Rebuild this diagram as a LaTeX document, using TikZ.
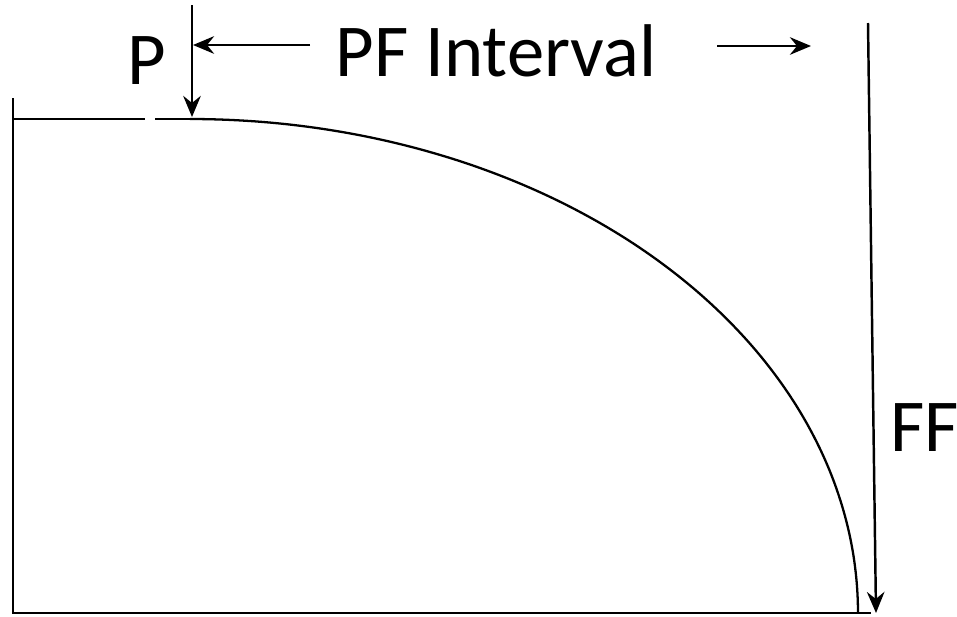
\documentclass[tikz,border=0pt]{standalone}
\usepackage{fontspec}
\setmainfont{Carlito}
\usetikzlibrary{arrows.meta}
\tikzset{
  lbl/.style={font=\fontsize{42.5}{50}\selectfont, inner sep=0pt},
  dimarrow/.style={-{Stealth[length=12pt, width=10pt, inset=4pt]}, line width=1.4pt}
}
\begin{document}
\begin{tikzpicture}[x=0.02cm, y=-0.02cm, line width=1.3pt]
    \useasboundingbox (0,0) rectangle (957,616);
    % Axes
    \draw (13,98) -- (13,613) -- (871,613);
    % Flat part before P, with the gap
    \draw (13,119) -- (145,119);
    \draw (155,119) -- (190,119);
    % Decline curve from P to FF
    \draw plot[domain=90:0, samples=80, smooth] ({190+668*cos(\x)}, {613-494*sin(\x)});
    % Labels
    \node[lbl] (p) at (147,61) {P};
    \node[lbl] (pfi) at (496,51) {PF Interval};
    \node[lbl] (ff) at (925,428) {FF};
    % Point P marker
    \coordinate (ptop) at (192,5);
    \coordinate (pbot) at (192,117);
    \draw[dimarrow] (ptop) -- (pbot);
    % Interval arrows
    \coordinate (lstart) at (310,45);
    \coordinate (lend) at (193,45);
    \draw[dimarrow] (lstart) -- (lend);
    \coordinate (rstart) at (717,46);
    \coordinate (rend) at (811,46);
    \draw[dimarrow] (rstart) -- (rend);
    % Point FF marker
    \coordinate (fftop) at (868,23);
    \coordinate (ffbot) at (876,613);
    \draw[dimarrow] (fftop) -- (ffbot);
\end{tikzpicture}
\end{document}
